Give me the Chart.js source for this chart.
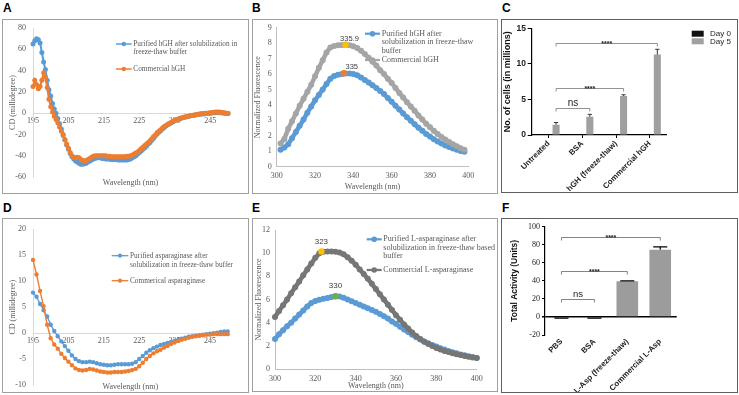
<!DOCTYPE html>
<html>
<head>
<meta charset="utf-8">
<title>hGH and L-asparaginase characterisation</title>
<script src="https://cdn.jsdelivr.net/npm/chart.js@4.4.1/dist/chart.umd.min.js"></script>
<style>
  body { margin: 0; width: 739px; height: 395px; background: #fff; position: relative; overflow: hidden; }
  .panel { position: absolute; box-sizing: border-box; border: 1px solid #a0a0a0; }
  .panel.prism { border-color: #5f5f5f; }
  .panel canvas { display: block; }
  .tag { position: absolute; font: bold 12px 'Liberation Sans', Arial, sans-serif; line-height: 12px; color: #000; }
</style>
</head>
<body>
<div class="tag" style="left:3px;top:2px">A</div>
<div class="tag" style="left:252px;top:2px">B</div>
<div class="tag" style="left:502px;top:2px">C</div>
<div class="tag" style="left:3px;top:202px">D</div>
<div class="tag" style="left:252px;top:202px">E</div>
<div class="tag" style="left:502px;top:202px">F</div>

<div class="panel" style="left:2px;top:19px;width:247px;height:175px"><canvas id="cdHgh" width="245" height="173"></canvas></div>
<div class="panel" style="left:252px;top:19px;width:246px;height:175px"><canvas id="flHgh" width="244" height="173"></canvas></div>
<div class="panel prism" style="left:501px;top:19px;width:237px;height:174px"><canvas id="cellsHgh" width="235" height="172"></canvas></div>
<div class="panel" style="left:2px;top:218px;width:247px;height:175px"><canvas id="cdAsp" width="245" height="173"></canvas></div>
<div class="panel" style="left:252px;top:218px;width:246px;height:174px"><canvas id="flAsp" width="244" height="172"></canvas></div>
<div class="panel prism" style="left:501px;top:218px;width:237px;height:175px"><canvas id="actAsp" width="235" height="173"></canvas></div>

<script>
// ---------- data ----------

// A: CD spectra of hGH, 195-250 nm in 0.5 nm steps
const cdTicks = [195, 205, 215, 225, 235, 245];
const wlHgh = [];
for (let w = 195; w <= 250; w += 0.5) wlHgh.push(w);
const cdHghPurified = [
  65, 68, 70, 69, 66, 57, 48, 41, 31, 22,
  16, 9, 4, 0, -5, -10, -15, -20, -25, -30,
  -34, -38, -41, -43, -45, -46, -47, -48, -48, -47.5,
  -47, -46, -45, -44, -43, -42.5, -42, -42, -42, -42.5,
  -42.5, -43, -43, -43, -43.5, -43.5, -43.5, -43.5, -44, -44,
  -44, -44, -44, -44, -43.5, -43, -42, -41, -40, -38.5,
  -37, -35.5, -34, -32.5, -31, -29, -27.5, -25.5, -23.5, -21.5,
  -19.5, -18, -16.5, -15, -13.5, -12, -11, -10, -9, -8,
  -7, -6.3, -5.7, -5.1, -4.6, -4.1, -3.7, -3.3, -2.9, -2.5,
  -2.2, -1.9, -1.6, -1.3, -1.1, -0.9, -0.7, -0.5, -0.3, -0.2,
  0, 0.1, 0.3, 0.4, 0.5, 0.4, 0.3, 0.1, -0.1, -0.3,
  -0.4
];
const cdHghCommercial = [
  25, 31, 27, 23, 25, 31, 38, 34, 24, 13,
  6, 1, -3, -6, -9, -13, -17, -21, -25, -29,
  -33, -37, -40, -41.5, -42, -41.5, -42, -43.5, -44.5, -45,
  -44.5, -43.5, -42.5, -41.5, -40.5, -40, -40, -40, -40, -40,
  -40, -40, -40.5, -40.5, -41, -41, -41, -41, -41, -41,
  -41, -41, -41, -40.5, -40.5, -40, -39.5, -38.5, -37.5, -36.5,
  -35, -33.5, -32, -30.5, -29, -27.5, -26, -24, -22, -20.5,
  -18.5, -17, -15.5, -14, -12.5, -11.5, -10.5, -9.5, -8.5, -7.5,
  -6.8, -6.1, -5.5, -4.9, -4.4, -3.9, -3.5, -3.1, -2.7, -2.3,
  -2, -1.7, -1.4, -1.1, -0.8, -0.6, -0.4, -0.2, 0, 0.2,
  0.4, 0.6, 0.8, 1, 1, 1, 0.8, 0.6, 0.3, 0,
  -0.2
];
const legendCdHgh = [['Purified hGH after solubilization in', 'freeze-thaw buffer'], ['Commercial hGH']];

// D: CD spectra of asparaginase, 195-250 nm in 1 nm steps
const wlAsp = [];
for (let w = 195; w <= 250; w++) wlAsp.push(w);
const cdAspPurified = [
  7.8, 7.0, 5.6, 4.4, 3.2, 1.6, 0.4, -0.6, -1.6, -2.5,
  -3.4, -4.3, -5.0, -5.4, -5.6, -5.6, -5.5, -5.6, -5.8, -6.0,
  -6.1, -6.2, -6.2, -6.1, -6.0, -6.0, -6.0, -6.0, -5.9, -5.6,
  -5.0, -4.4, -3.8, -3.3, -2.9, -2.6, -2.3, -2.1, -1.9, -1.7,
  -1.5, -1.3, -1.1, -0.9, -0.7, -0.6, -0.5, -0.4, -0.3, -0.2,
  -0.1, 0.0, 0.1, 0.2, 0.3, 0.3
];
const cdAspCommercial = [
  14.1, 11.3, 8.1, 5.2, 1.6, -1.0, -2.2, -3.0, -4.0, -4.8,
  -5.5, -6.2, -6.8, -7.1, -7.2, -7.1, -6.9, -7.0, -7.2, -7.4,
  -7.5, -7.6, -7.6, -7.5, -7.5, -7.5, -7.4, -7.3, -7.1, -6.9,
  -6.4, -5.7, -5.0, -4.4, -3.9, -3.5, -3.2, -2.8, -2.5, -2.1,
  -1.8, -1.5, -1.3, -1.1, -0.9, -0.7, -0.6, -0.5, -0.4, -0.3,
  -0.3, -0.2, -0.2, -0.2, -0.2, -0.2
];
const legendCdAsp = [['Purified asparaginase after', 'solubilization in freeze-thaw buffer'], ['Commerical asparaginase']];

// B: intrinsic fluorescence of hGH, 302-398 nm in 2 nm steps
const emHgh = [];
for (let w = 302; w <= 398; w += 2) emHgh.push(w);
const flHghPurified = [
  1.10, 1.25, 1.45, 1.85, 2.25, 2.65, 3.05, 3.5, 3.9, 4.3,
  4.65, 5.0, 5.35, 5.7, 5.88, 5.95, 6.0, 6.03, 6.03, 6.0,
  5.92, 5.78, 5.62, 5.45, 5.28, 5.1, 4.9, 4.7, 4.45, 4.2,
  3.95, 3.7, 3.45, 3.2, 2.98, 2.75, 2.52, 2.32, 2.12, 1.95,
  1.78, 1.63, 1.5, 1.38, 1.28, 1.18, 1.1, 1.02, 0.96
];
const flHghCommercial = [
  1.5, 1.8, 2.45, 2.95, 3.45, 3.95, 4.4, 4.85, 5.3, 5.85,
  6.4, 6.9, 7.4, 7.72, 7.82, 7.86, 7.88, 7.9, 7.86, 7.8,
  7.68, 7.5, 7.3, 7.05, 6.8, 6.55, 6.25, 6.0, 5.7, 5.42,
  5.1, 4.78, 4.48, 4.18, 3.9, 3.62, 3.32, 3.05, 2.78, 2.55,
  2.32, 2.12, 1.93, 1.76, 1.6, 1.45, 1.32, 1.2, 1.1
];
const peakHgh = [[335.9, 7.9], [335, 6.05]];
const peakHghLabels = ['335.9', '335'];
const legendFlHgh = [['Purified hGH after', 'solubilization in freeze-thaw', 'buffer'], ['Commercial hGH']];

// E: intrinsic fluorescence of L-asparaginase, 300-400 nm in 2 nm steps
const emAsp = [];
for (let w = 300; w <= 400; w += 2) emAsp.push(w);
const flAspPurified = [
  2.6, 3.0, 3.35, 3.7, 4.0, 4.35, 4.7, 5.05, 5.4, 5.7,
  5.88, 5.98, 6.06, 6.14, 6.22, 6.28, 6.25, 6.15, 6.0, 5.85,
  5.7, 5.55, 5.4, 5.25, 5.1, 4.95, 4.75, 4.55, 4.35, 4.1,
  3.9, 3.65, 3.4, 3.2, 2.95, 2.75, 2.55, 2.38, 2.22, 2.08,
  1.94, 1.8, 1.68, 1.56, 1.45, 1.35, 1.26, 1.18, 1.1, 1.03,
  0.96
];
const flAspCommercial = [
  4.5, 5.0, 5.5, 6.0, 6.55, 7.05, 7.55, 8.1, 8.6, 9.1,
  9.6, 10.0, 10.12, 10.15, 10.15, 10.12, 10.05, 9.9, 9.65, 9.35,
  9.0, 8.6, 8.2, 7.8, 7.35, 6.9, 6.45, 6.0, 5.55, 5.1,
  4.65, 4.25, 3.85, 3.5, 3.15, 2.85, 2.6, 2.35, 2.15, 1.98,
  1.82, 1.68, 1.56, 1.46, 1.36, 1.28, 1.2, 1.13, 1.06, 1.0,
  0.95
];
const peakAsp = [[323, 10.15], [330, 6.28]];
const peakAspLabels = ['323', '330'];
const legendFlAsp = [['Purified L-asparaginase after', 'solubilization in freeze-thaw based', 'buffer'], ['Commercial L-asparaginase']];

// C: cell proliferation
const groupsHgh = ['Untreated', 'BSA', 'hGH (freeze-thaw)', 'Commercial hGH'];
const cellsDay0 = [0.15, 0.12, 0.12, 0.13];
const cellsDay5 = [1.45, 2.55, 5.5, 11.3];
const cellsDay5Err = [0.3, 0.35, 0.15, 0.75];
const cellsSig = [[0, 1, 3.75, 'ns'], [0, 2, 6.6, '****'], [0, 3, 12.9, '****']];

// F: asparaginase activity
const groupsAsp = ['PBS', 'BSA', 'L-Asp (freeze-thaw)', 'Commercial L-Asp'];
const activity = [-1, -1, 39.5, 74.5];
const activityErr = [0.4, 0.4, 0.5, 3.2];
const activitySig = [[0, 1, 19.5, 'ns'], [0, 2, 51, '****'], [0, 3, 89, '****']];

// ---------- helpers ----------
const serif = "'Liberation Serif', 'Times New Roman', serif";
const sans = "'Liberation Sans', Arial, sans-serif";
const excelGray = '#595959';
const blue = '#5B9BD5', orange = '#ED7D31', yellow = '#FFC000', green = '#70AD47';

function fixSize(px) {
  return function (scale) {
    if (scale.isHorizontal()) scale.height = px; else scale.width = px;
    scale.paddingLeft = 0; scale.paddingRight = 0; scale.paddingTop = 0; scale.paddingBottom = 0;
  };
}

function setTicks(values) {
  return function (scale) { scale.ticks = values.map(v => ({ value: v })); };
}

function xy(xs, ys) {
  return xs.map((x, i) => ({ x: x, y: ys[i] }));
}

function spectrum(label, color, xs, ys, radius, width, order) {
  return {
    label: label, data: xy(xs, ys), borderColor: color, backgroundColor: color,
    pointBackgroundColor: color, pointBorderWidth: 0, pointRadius: radius,
    borderWidth: width, tension: 0, order: order, clip: false
  };
}

function peakMark(color, p) {
  return {
    data: [{ x: p[0], y: p[1] }], showLine: false, pointRadius: 3.2,
    pointBackgroundColor: color, pointBorderColor: color, pointBorderWidth: 0, order: 0, clip: false
  };
}

function drawLineLegend(ctx, lg) {
  ctx.font = lg.size + 'px ' + serif;
  ctx.textBaseline = 'middle';
  ctx.textAlign = 'left';
  lg.items.forEach((item, k) => {
    ctx.strokeStyle = item.color;
    ctx.lineWidth = lg.lineWidth;
    ctx.beginPath(); ctx.moveTo(lg.x1, item.y); ctx.lineTo(lg.x2, item.y); ctx.stroke();
    ctx.fillStyle = item.color;
    ctx.beginPath(); ctx.arc((lg.x1 + lg.x2) / 2, item.y, lg.r, 0, Math.PI * 2); ctx.fill();
    ctx.fillStyle = excelGray;
    lg.text[k].forEach((t, i) => ctx.fillText(t, lg.tx, item.y + i * lg.gap));
  });
}

function drawBoxLegend(ctx, lg) {
  ctx.font = lg.size + 'px ' + sans;
  ctx.textBaseline = 'middle';
  ctx.textAlign = 'left';
  lg.items.forEach(item => {
    ctx.fillStyle = item.color;
    ctx.fillRect(lg.x, item.y - lg.h / 2, lg.w, lg.h);
    ctx.fillStyle = '#222';
    ctx.fillText(item.text, lg.tx, item.y);
  });
}

function drawErrors(chart, e) {
  const ctx = chart.ctx, ys = chart.scales.y;
  const meta = chart.getDatasetMeta(e.dataset);
  const vals = chart.data.datasets[e.dataset].data;
  ctx.strokeStyle = e.color;
  ctx.lineWidth = e.width;
  meta.data.forEach((bar, i) => {
    const v = vals[i], dir = v < 0 ? -1 : 1;
    const y0 = ys.getPixelForValue(v), y1 = ys.getPixelForValue(v + dir * e.values[i]);
    const half = bar.width * e.cap / 2;
    ctx.beginPath();
    ctx.moveTo(bar.x, y0); ctx.lineTo(bar.x, y1);
    ctx.moveTo(bar.x - half, y1); ctx.lineTo(bar.x + half, y1);
    ctx.stroke();
  });
}

function drawBrackets(chart, b) {
  const ctx = chart.ctx, ys = chart.scales.y;
  const meta = chart.getDatasetMeta(b.dataset);
  b.items.forEach(([from, to, v, text]) => {
    const x1 = meta.data[from].x, x2 = meta.data[to].x;
    const y = Math.round(ys.getPixelForValue(v)) + 0.5;
    ctx.strokeStyle = b.color;
    ctx.lineWidth = 0.8;
    ctx.beginPath();
    ctx.moveTo(x1, y + b.tick); ctx.lineTo(x1, y); ctx.lineTo(x2, y); ctx.lineTo(x2, y + b.tick);
    ctx.stroke();
    ctx.fillStyle = '#222';
    ctx.textAlign = 'center';
    ctx.textBaseline = 'alphabetic';
    if (text === 'ns') {
      ctx.font = b.nsSize + 'px ' + sans;
      ctx.fillText(text, (x1 + x2) / 2, y - 2.5);
    } else {
      ctx.font = 'bold 7px ' + sans;
      ctx.fillText(text, (x1 + x2) / 2, y + 2.5);
    }
  });
}

function drawPeaks(chart, p) {
  const ctx = chart.ctx;
  ctx.font = p.size + 'px ' + sans;
  ctx.fillStyle = '#404040';
  ctx.textAlign = 'center';
  ctx.textBaseline = 'middle';
  p.datasets.forEach((ds, i) => {
    const pt = chart.getDatasetMeta(ds).data[0];
    ctx.fillText(p.labels[i], pt.x + p.offsets[i][0], pt.y - p.offsets[i][1]);
  });
}

function extras(cfg) {
  return {
    id: 'extras',
    afterDatasetsDraw(chart) {
      const ctx = chart.ctx;
      ctx.save();
      if (cfg.errors) drawErrors(chart, cfg.errors);
      if (cfg.brackets) drawBrackets(chart, cfg.brackets);
      if (cfg.peaks) drawPeaks(chart, cfg.peaks);
      if (cfg.lineLegend) drawLineLegend(ctx, cfg.lineLegend);
      if (cfg.boxLegend) drawBoxLegend(ctx, cfg.boxLegend);
      ctx.restore();
    }
  };
}

const excelFont = { family: serif, size: 8 };
const baseOptions = {
  animation: false, responsive: false, events: [],
  plugins: { legend: { display: false }, tooltip: { enabled: false } }
};

// ---------- CD charts (A, D) ----------
function cdChart(id, cfg) {
  return new Chart(document.getElementById(id), {
    type: 'line',
    data: { datasets: cfg.datasets },
    options: Object.assign({}, baseOptions, {
      layout: { padding: cfg.padding },
      scales: {
        x: {
          type: 'linear', position: { y: 0 }, min: 195, max: 250,
          afterBuildTicks: setTicks(cdTicks), afterFit: fixSize(0),
          ticks: { font: excelFont, color: excelGray, padding: 3 },
          grid: { display: false, drawTicks: false },
          border: { color: '#d9d9d9' }
        },
        x2: {
          type: 'linear', position: 'bottom', min: 0, max: 1, afterFit: fixSize(cfg.x2Height),
          ticks: { display: false }, grid: { display: false, drawTicks: false }, border: { display: false },
          title: { display: true, text: 'Wavelength (nm)', font: excelFont, color: excelGray, padding: { top: 0, bottom: cfg.x2TitlePad } }
        },
        y: {
          min: cfg.yMin, max: cfg.yMax, afterFit: fixSize(28),
          ticks: { stepSize: cfg.yStep, font: excelFont, color: excelGray, padding: 7 },
          grid: { display: false, drawTicks: false },
          border: { color: '#d9d9d9' },
          title: { display: true, text: 'CD (millidegree)', font: excelFont, color: excelGray, padding: { top: 3, bottom: 0 } }
        }
      }
    }),
    plugins: [extras(cfg.extras)]
  });
}

cdChart('cdHgh', {
  datasets: [
    spectrum('Purified hGH after solubilization in freeze-thaw buffer', blue, wlHgh, cdHghPurified, 2.5, 2, 2),
    spectrum('Commercial hGH', orange, wlHgh, cdHghCommercial, 2.5, 2, 1)
  ],
  padding: { left: 2, right: 20, top: 8, bottom: 0 },
  x2Height: 16, x2TitlePad: 5.5, yMin: -60, yMax: 80, yStep: 20,
  extras: {
    lineLegend: {
      size: 7.3, x1: 113, x2: 128.7, tx: 130.3, gap: 8.3, r: 2.2, lineWidth: 1.5,
      text: legendCdHgh, items: [{ color: blue, y: 24 }, { color: orange, y: 49 }]
    }
  }
});

cdChart('cdAsp', {
  datasets: [
    spectrum('Purified asparaginase after solubilization in freeze-thaw buffer', blue, wlAsp, cdAspPurified, 2.2, 1.4, 2),
    spectrum('Commerical asparaginase', orange, wlAsp, cdAspCommercial, 2.2, 1.4, 1)
  ],
  padding: { left: 2, right: 20.3, top: 10.3, bottom: 0 },
  x2Height: 7, x2TitlePad: 0, yMin: -10, yMax: 20, yStep: 5,
  extras: {
    lineLegend: {
      size: 7.3, x1: 108.7, x2: 125.3, tx: 127, gap: 9.3, r: 2.1, lineWidth: 1.3,
      text: legendCdAsp, items: [{ color: blue, y: 36.7 }, { color: orange, y: 61.7 }]
    }
  }
});

// ---------- fluorescence charts (B, E) ----------
function fluorChart(id, cfg) {
  return new Chart(document.getElementById(id), {
    type: 'line',
    data: { datasets: cfg.datasets },
    options: Object.assign({}, baseOptions, {
      layout: { padding: cfg.padding },
      scales: {
        x: {
          type: 'linear', min: 300, max: 400, afterFit: fixSize(cfg.xHeight),
          ticks: { stepSize: 20, font: excelFont, color: excelGray, padding: cfg.tickPad },
          grid: { display: false, drawTicks: false },
          border: { color: '#bfbfbf' },
          title: { display: true, text: 'Wavelength (nm)', font: excelFont, color: excelGray, padding: { top: 0, bottom: cfg.xTitlePad } }
        },
        y: {
          min: 0, max: cfg.yMax, afterFit: fixSize(cfg.yWidth),
          ticks: { stepSize: cfg.yStep, font: excelFont, color: excelGray, padding: 5 },
          grid: { display: false, drawTicks: false },
          border: { color: '#bfbfbf' },
          title: { display: true, text: 'Normalized Fluorescence', font: excelFont, color: excelGray, padding: { top: cfg.yTitlePad, bottom: 0 } }
        }
      }
    }),
    plugins: [extras(cfg.extras)]
  });
}

fluorChart('flHgh', {
  datasets: [
    spectrum('Purified hGH after solubilization in freeze-thaw buffer', blue, emHgh, flHghPurified, 3, 4.5, 2),
    spectrum('Commercial hGH', '#a5a5a5', emHgh, flHghCommercial, 3, 4.5, 1),
    peakMark(yellow, peakHgh[0]),
    peakMark(orange, peakHgh[1])
  ],
  padding: { left: 0, right: 28.7, top: 7.7, bottom: 0 },
  yWidth: 23.7, xHeight: 26.3, tickPad: 4, xTitlePad: 1.2, yTitlePad: 0, yMax: 9, yStep: 1,
  extras: {
    peaks: { size: 7.5, datasets: [2, 3], labels: peakHghLabels, offsets: [[4, 6], [8, 6]] },
    lineLegend: {
      size: 8, x1: 112, x2: 127, tx: 128.7, gap: 8.7, r: 2.8, lineWidth: 2.2,
      text: legendFlHgh, items: [{ color: blue, y: 13.7 }, { color: '#a5a5a5', y: 40 }]
    }
  }
});

fluorChart('flAsp', {
  datasets: [
    spectrum('Purified L-asparaginase after solubilization in freeze-thaw based buffer', blue, emAsp, flAspPurified, 3, 4.5, 2),
    spectrum('Commercial L-asparaginase', '#767676', emAsp, flAspCommercial, 3, 4.5, 1),
    peakMark(yellow, peakAsp[0]),
    peakMark(green, peakAsp[1])
  ],
  padding: { left: 0, right: 20.3, top: 11, bottom: 0 },
  yWidth: 22, xHeight: 22, tickPad: 5, xTitlePad: 0, yTitlePad: 0.8, yMax: 12, yStep: 2,
  extras: {
    peaks: { size: 8, datasets: [2, 3], labels: peakAspLabels, offsets: [[0, 10], [0, 10]] },
    lineLegend: {
      size: 8, x1: 113.7, x2: 128.7, tx: 130.3, gap: 8.2, r: 2.8, lineWidth: 2.2,
      text: legendFlAsp, items: [{ color: blue, y: 20.3 }, { color: '#767676', y: 51 }]
    }
  }
});

// ---------- bar charts (C, F) ----------
const prismTick = { family: sans, size: 7.9, weight: 'bold' };

new Chart(document.getElementById('cellsHgh'), {
  type: 'bar',
  data: {
    labels: groupsHgh,
    datasets: [
      { label: 'Day 0', data: cellsDay0, backgroundColor: '#111', categoryPercentage: 0.89, barPercentage: 0.47 },
      { label: 'Day 5', data: cellsDay5, backgroundColor: '#a0a0a0', categoryPercentage: 0.89, barPercentage: 0.47 }
    ]
  },
  options: Object.assign({}, baseOptions, {
    layout: { padding: { left: 0, right: 70.3, top: 8.3, bottom: 0 } },
    scales: {
      x: {
        afterFit: fixSize(57),
        ticks: { autoSkip: false, minRotation: 45, maxRotation: 45, font: prismTick, color: '#222', padding: 1 },
        grid: { drawOnChartArea: false, offset: false, tickLength: 3, tickColor: '#000' },
        border: { color: '#000', width: 1.2 }
      },
      y: {
        min: 0, max: 15, afterFit: fixSize(29.7),
        ticks: { stepSize: 5, font: { family: sans, size: 8.5, weight: 'bold' }, color: '#222', padding: 1.7 },
        grid: { drawOnChartArea: false, tickLength: 4, tickColor: '#000' },
        border: { color: '#000', width: 1.2 },
        title: { display: true, text: 'No. of cells (in millions)', font: { family: sans, size: 9, weight: 'bold' }, color: '#111', padding: { top: 0, bottom: 0 } }
      }
    }
  }),
  plugins: [extras({
    errors: { dataset: 1, values: cellsDay5Err, color: '#333', width: 1, cap: 0.6 },
    brackets: { dataset: 1, items: cellsSig, color: '#777', tick: 3, nsSize: 10 },
    boxLegend: {
      size: 8, x: 189.7, w: 12, h: 6, tx: 208,
      items: [{ color: '#111', text: 'Day 0', y: 13.7 }, { color: '#a0a0a0', text: 'Day 5', y: 21.3 }]
    }
  })]
});

new Chart(document.getElementById('actAsp'), {
  type: 'bar',
  data: {
    labels: groupsAsp,
    datasets: [
      { label: 'Total Activity', data: activity, backgroundColor: '#9c9c9c', categoryPercentage: 0.9, barPercentage: 0.73 }
    ]
  },
  options: Object.assign({}, baseOptions, {
    layout: { padding: { left: 0, right: 60.3, top: 7.7, bottom: 0 } },
    scales: {
      x: {
        afterFit: fixSize(57),
        ticks: { autoSkip: false, minRotation: 45, maxRotation: 45, font: prismTick, color: '#222', padding: 2 },
        grid: { display: false, drawTicks: false },
        border: { display: false }
      },
      y: {
        min: -20, max: 100, afterFit: fixSize(43),
        ticks: { stepSize: 20, font: { family: serif, size: 8 }, color: '#222', padding: 2 },
        grid: {
          color: c => (c.tick && c.tick.value === 0 ? '#000' : 'rgba(0,0,0,0)'),
          lineWidth: c => (c.tick && c.tick.value === 0 ? 1.5 : 1),
          tickColor: '#000', tickLength: 3
        },
        border: { color: '#000', width: 1.2 },
        title: { display: true, text: 'Total Activity (Units)', font: { family: sans, size: 8.5, weight: 'bold' }, color: '#111', padding: { top: 7.9, bottom: 0 } }
      }
    }
  }),
  plugins: [extras({
    errors: { dataset: 0, values: activityErr, color: '#000', width: 1.2, cap: 0.65 },
    brackets: { dataset: 0, items: activitySig, color: '#666', tick: 3, nsSize: 9.5 }
  })]
});
</script>
</body>
</html>
